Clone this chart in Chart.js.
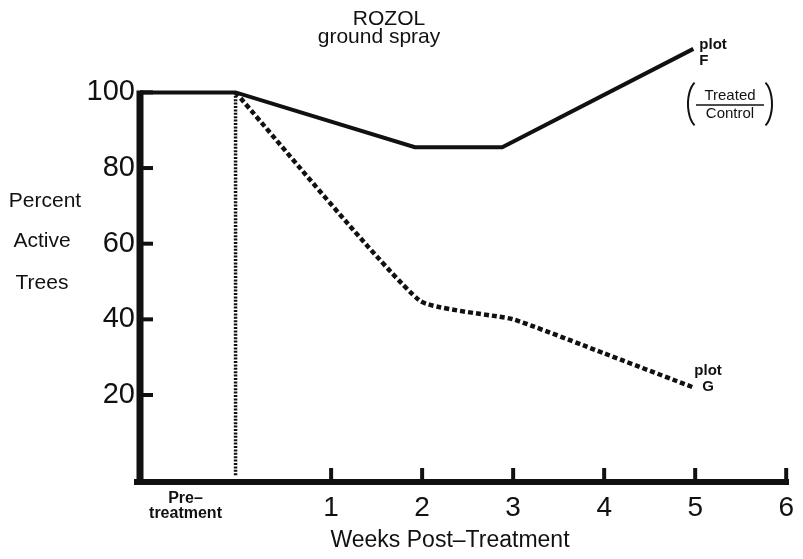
<!DOCTYPE html>
<html>
<head>
<meta charset="utf-8">
<script src="https://cdn.jsdelivr.net/npm/chart.js@4.4.1/dist/chart.umd.min.js"></script>
<style>
  html, body { margin: 0; padding: 0; background: #fff; }
  #wrap { width: 803px; height: 559px; }
</style>
</head>
<body>
<div id="wrap"><canvas id="myChart"></canvas></div>
<script>
// values (x = weeks post-treatment, pre-treatment at left)
const yTicks = [20, 40, 60, 80, 100];
const xTicks = [1, 2, 3, 4, 5, 6];
const preLabelX = -0.6;

const plotFX = [-1.1, -0.05, 1.92, 2.88, 4.98];
const plotFY = [100, 100, 85.5, 85.5, 111.5];

const plotGX = [-0.05, 1.97, 3, 4, 4.98];
const plotGY = [100, 45, 40, 31, 22];

const startX = [-0.05, -0.05];
const startY = [100, -1.5];

function pts(xs, ys){
    return xs.map((x, i) => ({x: x, y: ys[i]}));
}

const ink = '#111';
const txtFont = '"Liberation Sans", Arial, sans-serif';

const decor = {
    id: 'decor',
    afterDatasetsDraw(chart){
        const ctx = chart.ctx;
        const xs = chart.scales.x, ys = chart.scales.y;
        const x0 = xs.getPixelForValue(xs.min);
        const x1 = xs.getPixelForValue(xs.max);
        const yb = ys.getPixelForValue(ys.min);
        const yTop = ys.getPixelForValue(100);
        ctx.save();
        ctx.strokeStyle = ink;
        ctx.lineCap = 'butt';
        // axes
        ctx.lineWidth = 6;
        ctx.beginPath();
        ctx.moveTo(x0 - 6, yb); ctx.lineTo(x1 + 1, yb);
        ctx.stroke();
        ctx.lineWidth = 7;
        ctx.beginPath();
        ctx.moveTo(x0, yb + 3); ctx.lineTo(x0, yTop - 2);
        ctx.stroke();
        // inward tick marks
        ctx.lineWidth = 4;
        for (const v of xTicks){
            const px = xs.getPixelForValue(v);
            ctx.beginPath(); ctx.moveTo(px, yb); ctx.lineTo(px, yb - 14); ctx.stroke();
        }
        for (const v of yTicks){
            const py = ys.getPixelForValue(v);
            ctx.beginPath(); ctx.moveTo(x0, py); ctx.lineTo(x0 + 13, py); ctx.stroke();
        }
        // texts
        ctx.fillStyle = ink;
        ctx.textAlign = 'center';
        ctx.textBaseline = 'middle';
        ctx.font = '21px ' + txtFont;
        ctx.fillText('ROZOL', 389, 19);
        ctx.fillText('ground spray', 379, 37);

        ctx.font = '21px ' + txtFont;
        ctx.fillText('Percent', 45, 201);
        ctx.fillText('Active', 42, 241);
        ctx.fillText('Trees', 42, 283);

        ctx.font = '23px ' + txtFont;
        ctx.fillText('Weeks Post\u2013Treatment', 450, 541);

        // plot labels
        const fx = xs.getPixelForValue(plotFX[plotFX.length - 1]);
        const fy = ys.getPixelForValue(plotFY[plotFY.length - 1]);
        ctx.font = 'bold 15px ' + txtFont;
        ctx.textAlign = 'left';
        ctx.fillText('plot', fx + 6, fy - 4);
        ctx.fillText('F', fx + 6, fy + 12);

        const gx = xs.getPixelForValue(plotGX[plotGX.length - 1]);
        const gy = ys.getPixelForValue(plotGY[plotGY.length - 1]);
        ctx.fillText('plot', gx + 1, gy - 17);
        ctx.fillText('G', gx + 9, gy - 1);

        // (Treated / Control)
        ctx.font = '15px ' + txtFont;
        ctx.textAlign = 'center';
        ctx.fillText('Treated', 730, 96);
        ctx.fillText('Control', 730, 114);
        ctx.lineWidth = 1.5;
        ctx.beginPath(); ctx.moveTo(696, 105); ctx.lineTo(764, 105); ctx.stroke();
        ctx.lineWidth = 2;
        ctx.beginPath(); ctx.ellipse(700, 104, 12, 24, 0, Math.PI * 0.65, Math.PI * 1.35); ctx.stroke();
        ctx.beginPath(); ctx.ellipse(760, 104, 12, 24, 0, -Math.PI * 0.35, Math.PI * 0.35); ctx.stroke();
        ctx.restore();
    }
};

const ctx = document.getElementById('myChart').getContext('2d');
const myChart = new Chart(ctx, {
    type: 'line',
    data: {
        datasets: [{
            label: 'plot F',
            data: pts(plotFX, plotFY),
            borderColor: ink,
            borderWidth: 4,
            pointRadius: 0,
            tension: 0
        }, {
            label: 'plot G',
            data: pts(plotGX, plotGY),
            borderColor: ink,
            borderWidth: 4.5,
            borderDash: [5, 3],
            pointRadius: 0,
            tension: 0.15
        }, {
            label: 'treatment',
            data: pts(startX, startY),
            borderColor: ink,
            borderWidth: 3.5,
            borderDash: [2, 1.4],
            pointRadius: 0
        }]
    },
    options: {
        responsive: true,
        maintainAspectRatio: false,
        animation: false,
        layout: { padding: { top: 10, right: 7, left: 0, bottom: 0 } },
        plugins: { legend: { display: false }, tooltip: { enabled: false } },
        scales: {
            x: {
                type: 'linear',
                min: -1.1,
                max: 6.02,
                grid: { display: false, drawTicks: false, tickLength: 0 },
                border: { display: false },
                afterBuildTicks: (s) => {
                    s.ticks = [preLabelX].concat(xTicks).map(v => ({value: v}));
                },
                afterFit: (s) => { s.height = 77; },
                ticks: {
                    autoSkip: false,
                    maxRotation: 0,
                    padding: 9,
                    color: ink,
                    callback: (v) => v < 0 ? ['Pre\u2013', 'treatment'] : String(v),
                    font: (c) => (c.tick && c.tick.value < 0)
                        ? {family: txtFont, size: 16, weight: 'bold', lineHeight: 0.95}
                        : {family: txtFont, size: 28}
                }
            },
            y: {
                min: -3,
                max: 118.5,
                grid: { display: false, drawTicks: false, tickLength: 0 },
                border: { display: false },
                afterBuildTicks: (s) => {
                    s.ticks = yTicks.map(v => ({value: v}));
                },
                afterFit: (s) => { s.width = 140; },
                ticks: {
                    padding: 5,
                    color: ink,
                    font: {family: txtFont, size: 29}
                }
            }
        }
    },
    plugins: [decor]
});
</script>
</body>
</html>
